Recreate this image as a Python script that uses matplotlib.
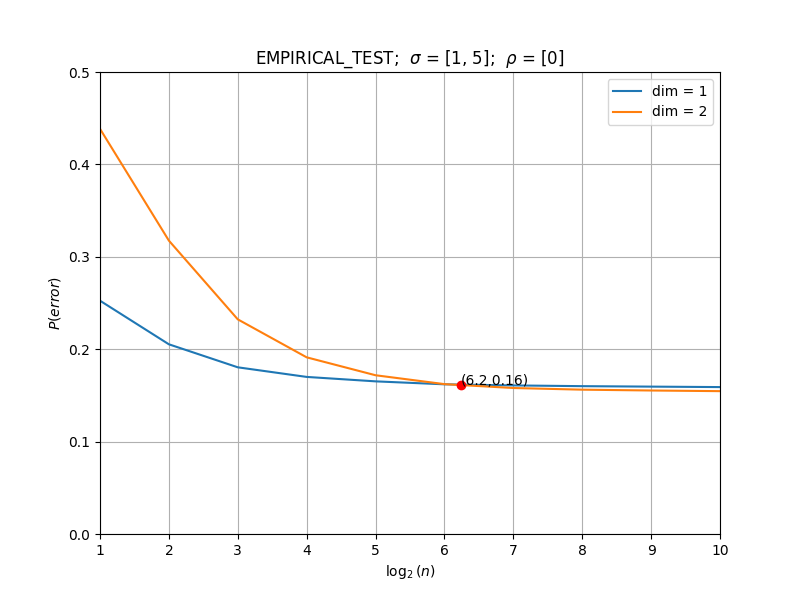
import matplotlib
matplotlib.use("Agg")
import matplotlib.pyplot as plt
import numpy as np

log2n = [1, 2, 3, 4, 5, 6, 7, 8, 9, 10]
dim1 = [0.2525, 0.2053, 0.1804, 0.1700, 0.1652, 0.1620, 0.1608, 0.1600, 0.1595, 0.1590]
dim2 = [0.4385, 0.3175, 0.2323, 0.1912, 0.1718, 0.1622, 0.1580, 0.1562, 0.1553, 0.1546]
cross_x = 6.24
cross_y = 0.161

fig, ax = plt.subplots(figsize=(8, 6), dpi=100)
ax.plot(log2n, dim1, label="dim = 1")
ax.plot(log2n, dim2, label="dim = 2")
ax.plot(cross_x, cross_y, "ro")
ax.annotate("(%.1f,%.2f)" % (cross_x, cross_y), (cross_x, cross_y))
ax.set_xlim(1, 10)
ax.set_ylim(0, 0.5)
ax.set_xticks(range(1, 11))
ax.grid(True)
ax.legend(loc="upper right")
ax.set_xlabel(r"$\log_2(n)$")
ax.set_ylabel(r"$P(error)$")
ax.set_title(r"EMPIRICAL_TEST;  $\sigma$ = [1, 5];  $\rho$ = [0]")
fig.savefig("out.png", dpi=100)
